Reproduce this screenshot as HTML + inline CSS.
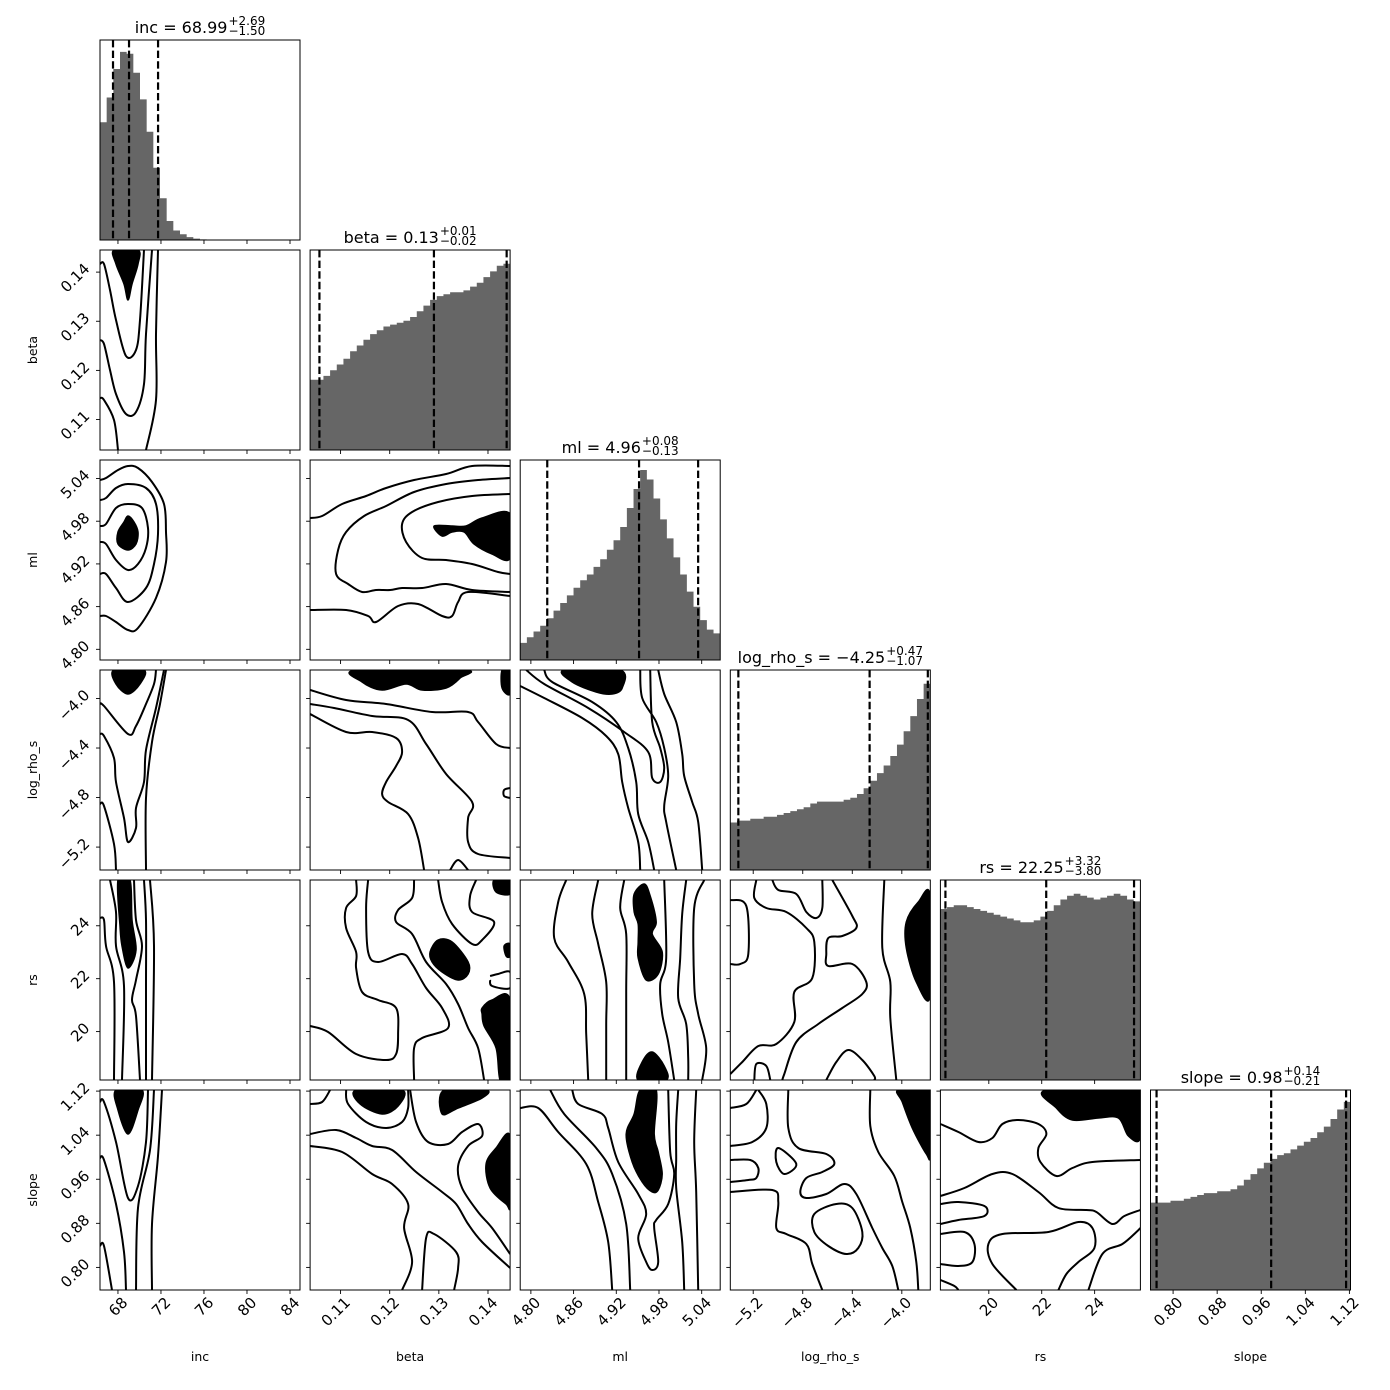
<!DOCTYPE html>
<html><head><meta charset="utf-8"><title>Corner plot</title>
<style>
html,body{margin:0;padding:0;background:#fff;}
#wrap{position:relative;width:1390px;height:1390px;overflow:hidden;font-family:"DejaVu Sans","Liberation Sans",sans-serif;}
svg{position:absolute;left:0;top:0;}
.ttl{position:absolute;width:240px;text-align:center;font-size:16px;line-height:20px;color:#000;white-space:nowrap;}
.ss{display:inline-flex;flex-direction:column;font-size:12px;line-height:10px;vertical-align:8px;text-align:left;margin-left:1px;}
</style></head>
<body>
<div id="wrap">
<svg id="chart" width="1390" height="1390" viewBox="0 0 1390 1390"></svg>
</div>
<script>
// ---------- data ----------
const paramNames = ["inc","beta","ml","log_rho_s","rs","slope"];
const rangeLo = [66.33, 0.1038, 4.785, -5.385, 18.17, 0.759];
const rangeHi = [84.93, 0.1445, 5.066, -3.77, 25.73, 1.122];
const ticksInc = [68,72,76,80,84];
const ticksBeta = [0.11,0.12,0.13,0.14];
const ticksMl = [4.80,4.86,4.92,4.98,5.04];
const ticksLog = [-5.2,-4.8,-4.4,-4.0];
const ticksRs = [20,22,24];
const ticksSlope = [0.80,0.88,0.96,1.04,1.12];
const tickLabelsInc = ["68","72","76","80","84"];
const tickLabelsBeta = ["0.11","0.12","0.13","0.14"];
const tickLabelsMl = ["4.80","4.86","4.92","4.98","5.04"];
const tickLabelsLog = ["\u22125.2","\u22124.8","\u22124.4","\u22124.0"];
const tickLabelsRs = ["20","22","24"];
const tickLabelsSlope = ["0.80","0.88","0.96","1.04","1.12"];
const titleMedian = ["68.99","0.13","4.96","\u22124.25","22.25","0.98"];
const titlePlus = ["+2.69","+0.01","+0.08","+0.47","+3.32","+0.14"];
const titleMinus = ["\u22121.50","\u22120.02","\u22120.13","\u22121.07","\u22123.80","\u22120.21"];
// quantile lines (16/50/84%)
const qInc = [67.54, 69.03, 71.73];
const qBeta = [0.1057, 0.1290, 0.1438];
const qMl = [4.823, 4.952, 5.035];
const qLog = [-5.32, -4.26, -3.79];
const qRs = [18.36, 22.17, 25.49];
const qSlope = [0.770, 0.978, 1.114];
// histograms (relative heights, 30 bins across axis range)
const histInc = [.62,.75,.90,.99,.98,.88,.74,.57,.38,.22,.10,.05,.03,.015,.007,.003,0,0,0,0,0,0,0,0,0,0,0,0,0,0];
const histBeta = [.37,.37,.39,.42,.45,.48,.52,.55,.58,.61,.63,.65,.66,.67,.68,.70,.73,.76,.79,.81,.82,.83,.83,.84,.86,.88,.91,.94,.97,.98];
const histMl = [.09,.12,.15,.18,.22,.26,.30,.34,.38,.42,.45,.49,.53,.58,.63,.70,.80,.90,1.0,.95,.85,.74,.64,.54,.45,.36,.28,.21,.16,.14];
const histLog = [.25,.26,.26,.27,.27,.28,.28,.29,.30,.31,.32,.33,.35,.36,.36,.36,.36,.37,.38,.40,.43,.47,.51,.55,.60,.66,.73,.81,.90,.98];
const histRs = [.90,.91,.92,.92,.91,.90,.89,.88,.87,.86,.85,.84,.83,.83,.84,.86,.89,.92,.95,.97,.98,.97,.96,.95,.96,.97,.98,.97,.95,.94];
const histSlope = [.46,.46,.46,.47,.47,.48,.49,.50,.51,.51,.52,.52,.53,.55,.58,.61,.64,.67,.69,.71,.72,.74,.76,.78,.80,.83,.86,.90,.95,.99];
// contours: points in percent of each axis range [u (x%), v (y%)]
const lines_inc_beta = [[[0,93],[2,93],[5,80],[8,65],[13,47],[18,50],[20,65],[22,100]],[[0,55],[2,53],[5,40],[8,28],[13,18],[18,19],[22,33],[23,58],[26,100]],[[0,26],[2,25],[7,15],[9,0]],[[29,100],[28,58],[28,25],[23,0]]];
const fills_inc_beta = [[[7,100],[8,93],[12,83],[14,75],[16,83],[19,93],[19,100]]];
const lines_inc_ml = [[[0,67],[3,68],[8,76],[14,78],[21,76],[24,66],[23,56],[19,48],[14,45],[8,50],[3,58],[0,59]],[[0,80],[3,81],[8,86],[14,88],[23,86],[28,78],[29,63],[27,48],[23,36],[14,29],[8,36],[3,43],[0,43]],[[0,90],[3,91],[9,95],[14,97],[19,96],[26,89],[32,78],[33,64],[33,49],[28,31],[19,16],[14,15],[8,19],[3,22],[0,22]]];
const fills_inc_ml = [[[9,64],[12,69],[14,72],[17,69],[19,64],[18,58],[14,55],[9,58]]];
const lines_inc_log = [[[0,83],[2,82],[14,68],[18,72],[23,83],[27,93],[28,100]],[[0,68],[2,67],[7,56],[8,44],[12,26],[14,14],[18,21],[18,31],[22,44],[23,60],[28,81],[32,100]],[[0,33],[2,32],[7,13],[8,0]],[[33,100],[30,83],[26,64],[23,36],[23,0]]];
const fills_inc_log = [[[7,100],[8,93],[14,88],[20,93],[22,100]]];
const lines_inc_rs = [[[0,81],[2,80],[3,67],[7,49],[7,0]],[[5,100],[8,84],[8,67],[12,47],[11,0]],[[17,100],[18,80],[21,67],[18,50],[16,40],[18,32],[20,0]],[[22,100],[23,80],[23,47],[23,0]],[[25,100],[27,67],[26,0]]];
const fills_inc_rs = [[[9,100],[10,77],[11,67],[14,56],[18,65],[16,80],[15,100]]];
const lines_inc_slope = [[[0,94],[2,94],[8,74],[14,46],[19,52],[23,74],[24,100]],[[0,66],[2,65],[8,43],[12,19],[13,0]],[[0,22],[2,22],[6,0]],[[27,100],[25,70],[19,41],[18,0]],[[31,100],[29,67],[26,33],[26,0]]];
const fills_inc_slope = [[[8,100],[9,90],[14,78],[19,90],[21,100]]];
const lines_beta_ml = [[[0,71],[6,72],[16,78],[28,82],[38,86],[52,90],[68,93],[81,97],[100,97]],[[100,91],[84,90],[68,88],[52,84],[38,77],[27,72],[18,64],[14,55],[13,43],[19,38],[26,34],[33,35],[40,35],[46,36],[56,36],[68,38],[81,35],[100,34]],[[100,83],[81,82],[64,79],[51,74],[46,68],[48,59],[56,51],[68,50],[81,48],[94,44],[100,43]],[[0,25],[18,25],[29,22],[33,19],[44,27],[54,28],[66,22],[71,22],[74,29],[79,34],[100,32]]];
const fills_beta_ml = [[[62,67],[71,67],[78,67],[86,71],[100,73],[100,51],[91,53],[82,58],[77,64],[71,64],[66,62]]];
const lines_beta_log = [[[0,90],[18,85],[38,83],[61,79],[79,79],[84,74],[93,63],[100,61]],[[0,83],[12,81],[31,77],[49,75],[58,63],[68,48],[81,34],[79,26],[79,14],[84,8],[100,6]],[[0,78],[18,69],[31,69],[43,66],[46,59],[43,52],[38,44],[36,38],[39,34],[49,28],[54,16],[57,0]],[[70,0],[74,5],[79,0]],[[100,41],[97,40],[97,37],[100,36]]];
const fills_beta_log = [[[23,100],[26,94],[36,90],[48,93],[56,90],[68,91],[75,96],[77,100]],[[96,100],[96,91],[100,88],[100,100]]];
const lines_ml_log = [[[3,100],[12,93],[34,81],[52,69],[64,59],[66,46],[70,44],[72,51],[70,61],[66,74],[65,100]],[[12,100],[16,94],[36,84],[48,74],[54,61],[58,44],[59,28],[64,14],[67,0]],[[0,92],[12,86],[31,76],[43,67],[49,58],[51,44],[54,31],[59,14],[60,0]],[[60,100],[61,86],[68,74],[72,61],[74,47],[72,32],[73,24],[78,0]],[[69,100],[72,88],[78,74],[81,58],[82,47],[86,34],[89,24],[91,0]]];
const fills_ml_log = [[[22,100],[26,94],[38,89],[46,88],[51,91],[50,100]]];
const lines_beta_rs = [[[0,27],[9,24],[23,13],[38,10],[43,13],[44,23],[43,36],[34,40],[26,44],[23,56],[23,64],[18,76],[18,86],[23,92],[23,100]],[[29,100],[28,86],[29,64],[34,59],[46,63],[51,58],[58,46],[66,36],[69,26],[56,21],[52,16],[52,0]],[[52,100],[51,91],[44,85],[43,79],[51,73],[58,59],[68,48],[74,38],[79,26],[84,16],[87,0]],[[64,100],[66,89],[71,78],[81,68],[86,70],[92,79],[81,84],[80,92],[83,100]],[[90,52],[94,53],[100,54],[100,46],[91,47],[90,50]]];
const fills_beta_rs = [[[92,100],[93,94],[100,93],[100,100]],[[60,64],[64,70],[71,69],[79,59],[79,53],[74,50],[66,54],[61,59]],[[97,67],[100,68],[100,62],[98,62]],[[86,36],[91,40],[100,40],[100,0],[95,0],[93,16],[87,27],[86,33]]];
const lines_ml_rs = [[[23,100],[19,89],[17,71],[24,59],[32,43],[33,23],[34,0]],[[39,100],[36,83],[39,68],[43,49],[43,28],[43,0]],[[52,100],[50,86],[53,73],[53,44],[53,0]],[[72,100],[73,61],[70,48],[71,33],[74,19],[77,0]],[[83,100],[81,83],[80,61],[79,41],[83,28],[84,11],[84,0]],[[92,100],[87,86],[87,48],[89,33],[93,16],[91,0]]];
const fills_ml_rs = [[[62,98],[65,92],[68,79],[66,73],[71,64],[69,53],[63,50],[59,61],[59,69],[59,78],[57,84],[57,93]],[[59,0],[61,9],[66,14],[72,7],[73,0]]];
const lines_log_rs = [[[0,90],[8,87],[9,63],[5,58],[0,58]],[[13,100],[12,91],[18,86],[28,84],[38,76],[42,69],[41,51],[32,44],[32,29],[23,18],[14,17],[6,9],[0,3]],[[21,100],[24,95],[33,93],[38,84],[43,81],[46,86],[46,100]],[[51,100],[61,82],[63,76],[56,72],[49,71],[48,63],[49,57],[61,58],[68,49],[66,43],[56,36],[44,28],[33,19],[27,3],[26,0]],[[77,100],[76,66],[80,49],[80,31],[83,0]],[[12,0],[13,8],[18,7],[20,0]],[[48,0],[53,9],[59,15],[66,10],[72,2],[72,0]]];
const fills_log_rs = [[[100,92],[94,89],[88,79],[88,66],[93,49],[100,42]]];
const lines_beta_slope = [[[18,100],[19,93],[28,84],[38,81],[46,84],[49,91],[49,100]],[[0,93],[6,94],[10,100]],[[50,100],[53,84],[59,74],[69,73],[76,79],[84,83],[86,77],[79,72],[74,62],[76,51],[84,39],[91,31],[100,18]],[[0,78],[13,80],[23,76],[31,72],[41,70],[53,59],[66,49],[73,43],[79,33],[86,24],[100,11]],[[0,72],[16,69],[31,58],[41,53],[49,43],[47,31],[51,14],[46,0]],[[56,0],[58,26],[62,28],[73,19],[74,11],[72,0]]];
const fills_beta_slope = [[[23,100],[25,93],[36,88],[44,92],[46,100]],[[67,100],[66,88],[74,91],[86,96],[88,100]],[[100,77],[93,71],[88,63],[90,51],[98,43],[100,43]]];
const lines_ml_slope = [[[0,91],[9,91],[19,79],[33,63],[39,44],[44,24],[46,0]],[[15,100],[22,88],[38,71],[46,58],[53,33],[55,0]],[[26,100],[29,93],[41,88],[44,81],[49,64],[59,48],[63,38],[59,26],[63,14],[66,10],[69,14],[67,31],[68,35],[74,43],[77,58],[75,69],[74,100]],[[79,100],[78,83],[78,66],[78,51],[81,24],[82,0]],[[88,100],[87,74],[88,49],[89,0]]];
const fills_ml_slope = [[[60,100],[68,100],[67,78],[69,69],[71,58],[69,50],[66,49],[61,54],[56,64],[53,78],[57,88]]];
const lines_log_slope = [[[0,91],[8,93],[13,100]],[[14,100],[18,93],[18,81],[11,74],[0,72]],[[29,100],[29,81],[34,71],[48,68],[52,63],[46,59],[38,56],[35,49],[38,46],[48,48],[57,53],[63,48],[71,31],[76,21],[81,12],[84,0]],[[0,65],[10,65],[14,61],[13,56],[9,55],[0,54]],[[0,49],[21,50],[24,44],[23,31],[28,28],[38,23],[41,13],[46,0]],[[42,38],[53,43],[61,41],[66,29],[64,21],[58,18],[49,22],[42,29],[42,38]],[[24,71],[33,63],[27,58],[23,64],[24,71]],[[70,100],[70,82],[74,69],[82,57],[86,44],[90,31],[93,14],[94,0]]];
const fills_log_slope = [[[84,100],[86,94],[91,81],[98,68],[100,68],[100,100]]];
const lines_rs_slope = [[[0,83],[9,79],[19,74],[26,76],[31,83],[39,85],[49,83],[53,78],[49,71],[50,64],[58,57],[66,61],[76,64],[100,65]],[[0,47],[12,51],[26,58],[36,58],[49,49],[59,41],[73,40],[78,39],[86,33],[92,37],[100,40]],[[0,43],[9,44],[22,42],[22,37],[9,35],[0,33]],[[0,28],[12,29],[17,23],[16,14],[9,12],[0,13]],[[38,0],[26,13],[24,23],[31,28],[54,29],[69,34],[76,31],[77,21],[69,14],[63,8],[59,0]],[[74,0],[81,18],[91,23],[98,29],[100,31]],[[0,5],[7,2],[9,0]]];
const fills_rs_slope = [[[53,100],[58,91],[66,85],[79,86],[89,86],[94,77],[100,76],[100,100]]];

// ---------- layout ----------
const NS = "http://www.w3.org/2000/svg";
const svg = document.getElementById("chart");
const wrap = document.getElementById("wrap");
const P = 200;
function panelLeft(i){ return 100 + i*210.1; }
function panelTop(j){ return 40 + j*210; }
function xScale(i, v){ return panelLeft(i) + (v - rangeLo[i])/(rangeHi[i]-rangeLo[i])*P; }
function yScale(j, v){ return panelTop(j) + P - (v - rangeLo[j])/(rangeHi[j]-rangeLo[j])*P; }
function pctX(i,u){ return xScale(i, rangeLo[i] + u/100*(rangeHi[i]-rangeLo[i])); }
function pctY(j,v){ return yScale(j, rangeLo[j] + v/100*(rangeHi[j]-rangeLo[j])); }
function mk(tag, attrs, parent){
  const e = document.createElementNS(NS, tag);
  for (const k in attrs) e.setAttribute(k, attrs[k]);
  (parent||svg).appendChild(e);
  return e;
}
const allTicks = [ticksInc,ticksBeta,ticksMl,ticksLog,ticksRs,ticksSlope];
const allTickLabels = [tickLabelsInc,tickLabelsBeta,tickLabelsMl,tickLabelsLog,tickLabelsRs,tickLabelsSlope];
const allHists = [histInc,histBeta,histMl,histLog,histRs,histSlope];
const allQ = [qInc,qBeta,qMl,qLog,qRs,qSlope];
const contourLines = {
  "0_1":lines_inc_beta,"0_2":lines_inc_ml,"0_3":lines_inc_log,"0_4":lines_inc_rs,"0_5":lines_inc_slope,
  "1_2":lines_beta_ml,"1_3":lines_beta_log,"1_4":lines_beta_rs,"1_5":lines_beta_slope,
  "2_3":lines_ml_log,"2_4":lines_ml_rs,"2_5":lines_ml_slope,
  "3_4":lines_log_rs,"3_5":lines_log_slope,"4_5":lines_rs_slope};
const contourFills = {
  "0_1":fills_inc_beta,"0_2":fills_inc_ml,"0_3":fills_inc_log,"0_4":fills_inc_rs,"0_5":fills_inc_slope,
  "1_2":fills_beta_ml,"1_3":fills_beta_log,"1_4":fills_beta_rs,"1_5":fills_beta_slope,
  "2_3":fills_ml_log,"2_4":fills_ml_rs,"2_5":fills_ml_slope,
  "3_4":fills_log_rs,"3_5":fills_log_slope,"4_5":fills_rs_slope};

function smoothPath(pts, closed){
  const n = pts.length;
  if (n < 2) return "";
  let d = "M" + pts[0][0].toFixed(2) + "," + pts[0][1].toFixed(2);
  const get = k => closed ? pts[(k+n)%n] : pts[Math.max(0,Math.min(n-1,k))];
  const segs = closed ? n : n-1;
  for (let k=0;k<segs;k++){
    const p0=get(k-1),p1=get(k),p2=get(k+1),p3=get(k+2);
    const c1=[p1[0]+(p2[0]-p0[0])/6, p1[1]+(p2[1]-p0[1])/6];
    const c2=[p2[0]-(p3[0]-p1[0])/6, p2[1]-(p3[1]-p1[1])/6];
    d += "C"+c1[0].toFixed(2)+","+c1[1].toFixed(2)+" "+c2[0].toFixed(2)+","+c2[1].toFixed(2)+" "+p2[0].toFixed(2)+","+p2[1].toFixed(2);
  }
  if (closed) d += "Z";
  return d;
}

const defs = mk("defs", {});
for (let j=0;j<6;j++){
  for (let i=0;i<=j;i++){
    const L = panelLeft(i), T = panelTop(j);
    const g = mk("g", {});
    
    
    const cp = mk("clipPath", {id:"clip"+i+"_"+j}, defs);
    mk("rect", {x:L, y:T, width:P, height:P}, cp);
    const inner = mk("g", {"clip-path":"url(#clip"+i+"_"+j+")"}, g);
    if (i === j){
      const h = allHists[i];
      const nb = h.length;
      const step = (rangeHi[i]-rangeLo[i])/nb;
      let d = "M" + xScale(i, rangeLo[i]).toFixed(2) + "," + (T+P);
      for (let k=0;k<nb;k++){
        const x0 = xScale(i, rangeLo[i]+k*step), x1 = xScale(i, rangeLo[i]+(k+1)*step);
        const y = T + P - h[k]*190;
        d += "L"+x0.toFixed(2)+","+y.toFixed(2)+"L"+x1.toFixed(2)+","+y.toFixed(2);
      }
      d += "L"+xScale(i, rangeHi[i]).toFixed(2)+","+(T+P)+"Z";
      const hp = mk("path", {d:d, fill:"#666666", stroke:"none"}, inner);
      
      
      allQ[i].forEach((q, qi) => {
        const x = xScale(i, q);
        const ln = mk("line", {x1:x, x2:x, y1:T, y2:T+P, stroke:"#000", "stroke-width":2.2, "stroke-dasharray":"7.4,3.2"}, inner);
        
        
      });
    } else {
      const key = i+"_"+j;
      (contourFills[key]||[]).forEach((poly, pi) => {
        const pts = poly.map(p => [pctX(i,p[0]), pctY(j,p[1])]);
        const fp = mk("path", {d:smoothPath(pts,true), fill:"#000", stroke:"#000", "stroke-width":1.5}, inner);
        
        
      });
      (contourLines[key]||[]).forEach((poly, pi) => {
        const pts = poly.map(p => [pctX(i,p[0]), pctY(j,p[1])]);
        const closed = poly.length>3 && poly[0][0]===poly[poly.length-1][0] && poly[0][1]===poly[poly.length-1][1];
        const lp = mk("path", {d:smoothPath(closed?pts.slice(0,-1):pts,closed), fill:"none", stroke:"#000", "stroke-width":2, "stroke-linejoin":"round"}, inner);
        
        
      });
    }
    const fr = mk("rect", {x:L, y:T, width:P, height:P, fill:"none", stroke:"#000", "stroke-width":1}, g);
    
    
    // x ticks
    allTicks[i].forEach((t, ti) => {
      const x = xScale(i, t);
      const tk = mk("line", {x1:x, x2:x, y1:T+P, y2:T+P+4, stroke:"#000", "stroke-width":0.9}, g);
      
      
      if (j === 5){
        const tx = mk("text", {transform:"translate("+(x+7).toFixed(1)+","+(T+P+10)+") rotate(-45)", "text-anchor":"end", "dominant-baseline":"central", "font-size":"15", fill:"#000"}, g);
        tx.textContent = allTickLabels[i][ti];
        
        
      }
    });
    if (i !== j){
      allTicks[j].forEach((t, ti) => {
        const y = yScale(j, t);
        const tk = mk("line", {x1:L-4, x2:L, y1:y, y2:y, stroke:"#000", "stroke-width":0.9}, g);
        
        
        if (i === 0){
          const tx = mk("text", {transform:"translate(87,"+(y-6).toFixed(1)+") rotate(-45)", "text-anchor":"end", "dominant-baseline":"central", "font-size":"15", fill:"#000"}, g);
          tx.textContent = allTickLabels[j][ti];
          
          
        }
      });
    }
  }
}
// axis labels
for (let i=0;i<6;i++){
  const t = mk("text", {x:(panelLeft(i)+P/2).toFixed(1), y:1361, "text-anchor":"middle", "font-size":"12.5", fill:"#000"});
  t.textContent = paramNames[i];
  
  
  if (i > 0){
    const yl = mk("text", {transform:"translate(37,"+(panelTop(i)+P/2)+") rotate(-90)", "text-anchor":"middle", "font-size":"12.5", fill:"#000"});
    yl.textContent = paramNames[i];
    
    
  }
}
// titles
for (let i=0;i<6;i++){
  const d = document.createElement("div");
  d.className = "ttl";
  d.style.left = (panelLeft(i)+P/2-120)+"px";
  d.style.top = (panelTop(i)-24)+"px";
  
  
  const m = document.createElement("span");
  m.textContent = paramNames[i] + " = " + titleMedian[i];
  const ss = document.createElement("span");
  ss.className = "ss";
  const sp = document.createElement("span"); sp.textContent = titlePlus[i];
  const sb = document.createElement("span"); sb.textContent = titleMinus[i];
  ss.appendChild(sp); ss.appendChild(sb);
  d.appendChild(m); d.appendChild(ss);
  wrap.appendChild(d);
}
</script>
</body></html>
